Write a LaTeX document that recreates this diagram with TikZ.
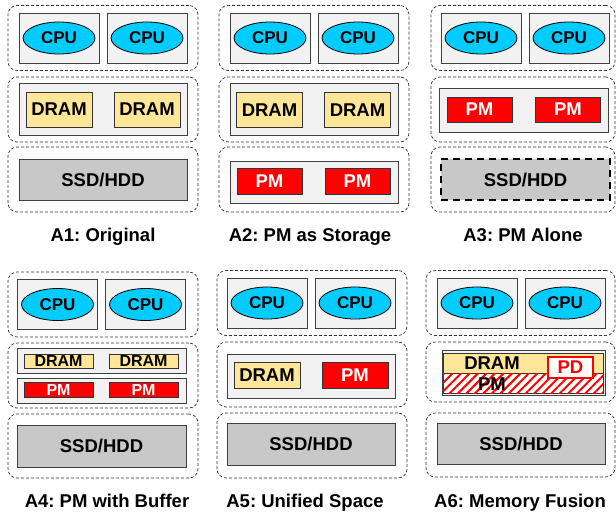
\documentclass[tikz,border=0pt]{standalone}
\usepackage{fontspec}
\setmainfont{Liberation Sans}
\usetikzlibrary{shapes, patterns.meta, positioning}

\definecolor{cpublue}{RGB}{0,204,255}
\definecolor{dramyellow}{RGB}{255,230,153}
\definecolor{traygray}{RGB}{242,242,242}
\definecolor{diskgray}{RGB}{200,200,200}

\begin{document}
\frenchspacing
\begin{tikzpicture}[x=1pt, y=-1pt,
        every node/.style={font=\fontsize{18.5}{20}\selectfont\bfseries, inner sep=0pt, text depth=0pt},
        layer/.style={rectangle, draw=black!80, dash pattern=on 3pt off 2pt, line width=0.7pt, rounded corners=9pt, minimum width=190pt, minimum height=65pt},
        cpubox/.style={rectangle, draw=black!75, fill=traygray, line width=0.8pt, minimum width=80pt, minimum height=50pt},
        cpu/.style={ellipse, draw, fill=cpublue, line width=0.8pt, minimum width=72pt, minimum height=32pt, font=\fontsize{17}{18}\selectfont\bfseries},
        tray/.style={rectangle, draw=black!75, fill=traygray, line width=0.8pt, minimum width=168pt, minimum height=52pt},
        dram/.style={rectangle, draw=black!80, fill=dramyellow, line width=0.8pt, minimum width=66pt, minimum height=35pt},
        pm/.style={rectangle, draw=black!80, fill=red, text=white, line width=0.8pt, minimum width=65pt, minimum height=26pt},
        disk/.style={rectangle, draw=black!75, fill=diskgray, line width=0.8pt, minimum width=168pt, minimum height=41pt},
        caption/.style={anchor=base}
    ]
        \useasboundingbox (0,0) rectangle (616,512);

        % CPU layer of every panel
        \foreach \p/\lx/\cx/\y/\w in {a1/103/103/38/190, a2/314/314/38/190, a3/523/525/38/184,
                                      a4/103/101.5/304.5/190, a5/312/311/303/190, a6/520.5/521/303/189} {
            \node[layer, minimum width=\w pt] (\p l1) at (\lx,\y) {};
            \node[cpubox] (\p box1) at (\cx-44,\y) {};
            \node[cpubox] (\p box2) at (\cx+44,\y) {};
            \node[cpu] (\p cpu1) at (\p box1) {CPU};
            \node[cpu] (\p cpu2) at (\p box2) {CPU};
        }

        % A1: Original
        \node[layer] (a1l2) at (103,109.5) {};
        \node[tray] (a1mem) at (103,109) {};
        \node[dram] (a1d1) at (59,109.5) {DRAM};
        \node[dram] (a1d2) at (147,109.5) {DRAM};
        \node[layer] (a1l3) at (103,179.5) {};
        \node[disk] (a1ssd) at (103,179.5) {SSD/HDD};
        \node[caption] (a1cap) at (103,241) {A1: Original};

        % A2: PM as Storage
        \node[layer] (a2l2) at (314,109.5) {};
        \node[tray] (a2mem) at (314,109) {};
        \node[dram] (a2d1) at (269.5,110) {DRAM};
        \node[dram] (a2d2) at (357.5,110) {DRAM};
        \node[layer] (a2l3) at (314,179.5) {};
        \node[tray, minimum height=42pt] (a2sto) at (314,182) {};
        \node[pm] (a2p1) at (269.5,181) {PM};
        \node[pm] (a2p2) at (357.5,181) {PM};
        \node[caption] (a2cap) at (310,241) {A2: PM as Storage};

        % A3: PM Alone
        \node[layer, minimum width=184pt] (a3l2) at (523,109.5) {};
        \node[tray, minimum width=169pt, minimum height=44pt] (a3mem) at (523.5,110) {};
        \node[pm, minimum height=25pt] (a3p1) at (479.5,109.5) {PM};
        \node[pm, minimum height=25pt] (a3p2) at (568,109.5) {PM};
        \node[layer, minimum width=184pt] (a3l3) at (523,179.5) {};
        \node[disk, draw=black, line width=2.4pt, dash pattern=on 7pt off 5pt, minimum width=169pt] (a3ssd) at (525.5,179.5) {SSD/HDD};
        \node[caption] (a3cap) at (523,241) {A3: PM Alone};

        % A4: PM with Buffer
        \node[layer] (a4l2) at (103,375.5) {};
        \node[tray, minimum width=169pt, minimum height=25pt] (a4buf) at (101.5,360.5) {};
        \node[dram, font=\fontsize{16}{17}\selectfont\bfseries, minimum width=69pt, minimum height=14pt] (a4d1) at (58.5,361) {DRAM};
        \node[dram, font=\fontsize{16}{17}\selectfont\bfseries, minimum width=69pt, minimum height=14pt] (a4d2) at (143.5,361) {DRAM};
        \node[tray, minimum width=169pt, minimum height=25pt] (a4mem) at (101.5,390.5) {};
        \node[pm, font=\fontsize{16}{17}\selectfont\bfseries, minimum width=69pt, minimum height=15pt] (a4p1) at (58.5,389.5) {PM};
        \node[pm, font=\fontsize{16}{17}\selectfont\bfseries, minimum width=69pt, minimum height=15pt] (a4p2) at (143.5,389.5) {PM};
        \node[layer, minimum height=64pt] (a4l3) at (103,446) {};
        \node[disk, minimum width=169pt, minimum height=42pt] (a4ssd) at (101.5,446) {SSD/HDD};
        \node[caption] (a4cap) at (107,507) {A4: PM with Buffer};

        % A5: Unified Space
        \node[layer] (a5l2) at (312,374.5) {};
        \node[tray, minimum height=44pt] (a5mem) at (311,376) {};
        \node[dram, minimum height=26pt] (a5d1) at (267,375) {DRAM};
        \node[pm, minimum width=66pt] (a5p1) at (355,375) {PM};
        \node[layer] (a5l3) at (312,445.5) {};
        \node[disk, minimum height=42pt] (a5ssd) at (311,444) {SSD/HDD};
        \node[caption] (a5cap) at (305,507) {A5: Unified Space};

        % A6: Memory Fusion
        \node[layer, minimum width=189pt, minimum height=60pt] (a6l2) at (520.5,372) {};
        \node[tray, minimum width=163pt, minimum height=45pt] (a6mem) at (523.5,372.5) {};
        \node[rectangle, draw=black!80, fill=dramyellow, line width=0.8pt, minimum width=160pt, minimum height=20pt] (a6dram) at (523,363) {};
        \node[rectangle, draw=black!80, fill=white, line width=0.8pt, minimum width=160pt, minimum height=20pt,
              postaction={pattern={Lines[angle=45, distance=6pt, line width=2pt]}, pattern color=red}] (a6pm) at (523,383) {};
        \node (a6dtxt) at (492,363) {DRAM};
        \node (a6ptxt) at (492,384) {PM};
        \node[rectangle, draw=red, fill=white, text=red, line width=1.5pt, minimum width=45pt, minimum height=21pt] (a6pd) at (570.5,367.5) {PD};
        \node[layer, minimum width=189pt, minimum height=64pt] (a6l3) at (520.5,445) {};
        \node[disk] (a6ssd) at (521,443.5) {SSD/HDD};
        \node[caption] (a6cap) at (520,507) {A6: Memory Fusion};

    \end{tikzpicture}
\end{document}
